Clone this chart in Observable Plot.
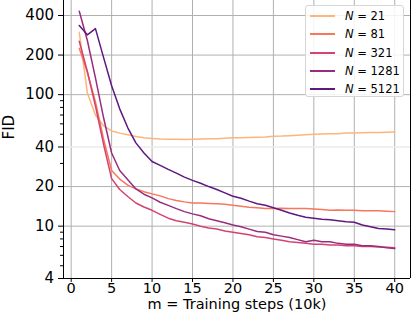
<!DOCTYPE html>
<html><head><meta charset="utf-8">
<script src="https://cdn.jsdelivr.net/npm/d3@7"></script>
<script src="https://cdn.jsdelivr.net/npm/@observablehq/plot@0.6"></script>
<style>
body{margin:0;background:#fff;font-family:"DejaVu Sans",sans-serif;}
#wrap{position:relative;width:412px;height:324px;}
#legend{position:absolute;left:305px;top:5px;width:99px;height:92px;border:1px solid #d6d6d6;border-radius:3px;background:rgba(255,255,255,0.85);box-sizing:border-box;}
.row{position:absolute;left:0;width:97px;height:18px;font-size:11.5px;color:#000;}
.sw{position:absolute;left:4px;top:8px;width:25px;height:2px}
.lab{position:absolute;left:39px;top:1px;white-space:nowrap;line-height:16px}
</style>
</head><body>
<div id="wrap"><div id="legend"></div></div>
<script>
const steps = [1,2,3,4,5,6,7,8,9,10,11,12,13,14,15,16,17,18,19,20,21,22,23,24,25,26,27,28,29,30,31,32,33,34,35,36,37,38,39,40];
const fid21 = [298,103,70,58,53,51,49.5,48,47,46.5,46,45.8,45.8,45.7,45.8,46,46.2,46.3,46.6,47,47.1,47.2,47.4,47.6,48.2,48.4,48.8,49.2,49.6,50,50.2,50.5,50.4,51,51.2,51.3,51.5,51.6,51.8,52];
const fid81 = [225,148,88,46,26.5,22.8,20.5,19.2,18.3,17.6,17,16.2,15.7,15.3,15.0,15.0,14.9,14.8,14.7,14.4,14.2,13.9,13.8,13.6,13.6,13.7,13.6,13.6,13.6,13.5,13.4,13.2,13.3,13.2,13.2,13.1,13.1,13.1,13.0,12.9];
const fid321 = [255,150,82,42,23,19,16.8,15,14,13.2,12.3,11.5,11.0,10.7,10.4,10.0,9.7,9.5,9.2,9.0,8.8,8.6,8.3,8.2,8.0,7.8,7.6,7.5,7.4,7.3,7.3,7.2,7.2,7.1,7.1,7.0,7.0,6.95,6.9,6.85];
const fid1281 = [431,258,134,67,36,26.5,22.5,19.2,17.5,16.4,15.2,14.4,13.6,12.9,12.4,12,11.4,11.0,10.6,10.2,9.9,9.5,9.1,9.0,8.6,8.4,8.2,7.9,7.6,7.8,7.6,7.6,7.4,7.3,7.3,7.1,7.1,7.0,6.85,6.75];
const fid5121 = [336,285,318,192,117,78,56,43,36,31,29,27,25.3,23.6,22.3,21.2,20,19,17.9,16.9,16.3,15.5,14.8,14.4,13.8,13.2,12.6,12.1,11.7,11.5,11.3,11.2,11.0,10.8,10.7,10.2,9.9,9.6,9.5,9.4];
const seriesNames = ["21","81","321","1281","5121"];
const seriesColors = ["#feb47b","#f8765c","#d3436e","#982d80","#5f187f"];
const xTicks = [0,5,10,15,20,25,30,35,40];
const yTickLabels = [4,10,20,40,100,200,400];
const yMinor = [5,6,7,8,9,30,50,60,70,80,90];
const yGridMajor = [10,20,100,200,400];
const yGridLight = [40];
const xDomain = [-0.95, 41.95];
const yDomain = [4, 520];
const xLabel = "m = Training steps (10k)";
const yLabel = "FID";

const allSeries = [fid21, fid81, fid321, fid1281, fid5121];
const data = [];
seriesNames.forEach((n, i) => steps.forEach((s, j) => data.push({N: n, step: s, fid: allSeries[i][j]})));

const chart = Plot.plot({
  width: 412, height: 324,
  marginLeft: 63, marginRight: 2, marginTop: 0, marginBottom: 46,
  style: {fontFamily: "DejaVu Sans", fontSize: "15px", background: "white", color: "black", overflow: "visible"},
  x: {domain: xDomain},
  y: {type: "log", domain: yDomain},
  color: {domain: seriesNames, range: seriesColors},
  marks: [
    Plot.gridX(xTicks, {stroke: "#b0b0b0", strokeOpacity: 1, strokeWidth: 1}),
    Plot.gridY(yGridMajor, {stroke: "#b0b0b0", strokeOpacity: 1, strokeWidth: 1}),
    Plot.gridY(yGridLight, {stroke: "#ebebeb", strokeOpacity: 1, strokeWidth: 1.5}),
    Plot.line(data, {x: "step", y: "fid", z: "N", stroke: "N", strokeWidth: 1.5}),
    Plot.ruleX([xDomain[0]], {stroke: "black", strokeWidth: 1}),
    Plot.ruleX([xDomain[1]], {stroke: "black", strokeWidth: 1}),
    Plot.ruleY([yDomain[0]], {stroke: "black", strokeWidth: 1}),
    Plot.axisX(xTicks, {tickSize: 4, tickPadding: 0, fontSize: 14.5, label: null, tickFormat: d => String(d)}),
    Plot.axisY(yTickLabels, {tickSize: 5, label: null, text: null}),
    Plot.text(yTickLabels, {y: d => d, frameAnchor: "left", dx: -9.5, textAnchor: "end", fontSize: 15, text: d => String(d)}),
    Plot.axisY(yMinor, {tickSize: 3, label: null, text: null}),
    Plot.text([xLabel], {frameAnchor: "bottom", lineAnchor: "middle", dy: 26, fontSize: 14.5, text: d => d}),
    Plot.text([yLabel], {frameAnchor: "left", dx: -54, rotate: -90, fontSize: 15, text: d => d})
  ]
});
document.getElementById("wrap").prepend(chart);

const legend = document.getElementById("legend");
seriesNames.forEach((n, i) => {
  const row = document.createElement("div");
  row.className = "row";
  row.style.top = (1 + i * 18.3) + "px";
  row.innerHTML = `<div class="sw" style="background:${seriesColors[i]}"></div><div class="lab"><i>N</i> = ${n}</div>`;
  legend.appendChild(row);
});
</script>
</body></html>
